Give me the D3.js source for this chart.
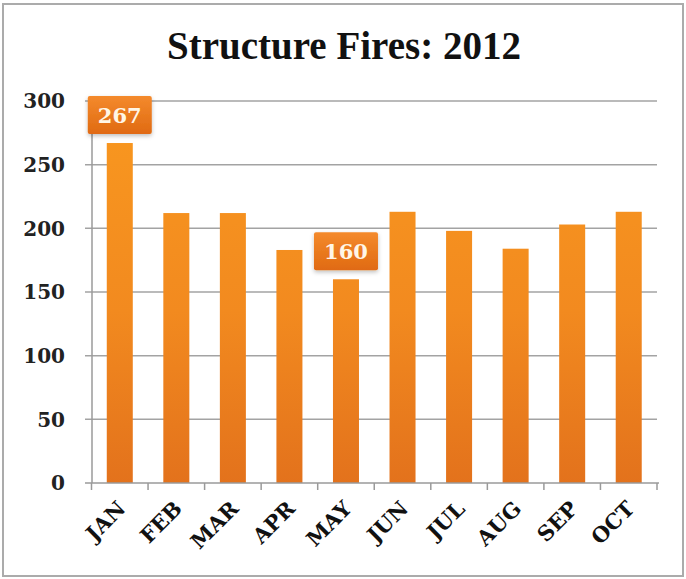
<!DOCTYPE html>
<html>
<head>
<meta charset="utf-8">
<script src="https://cdn.jsdelivr.net/npm/d3@7"></script>
<style>
  body { margin: 0; background: #fff; }
  svg { display: block; }
</style>
</head>
<body>
<svg id="chart"></svg>
<script>
// data
const months = ['JAN', 'FEB', 'MAR', 'APR', 'MAY', 'JUN', 'JUL', 'AUG', 'SEP', 'OCT'];
const fires = [267, 212, 212, 183, 160, 213, 198, 184, 203, 213];
const labelled = ['JAN', 'MAY'];
const yTicks = [0, 50, 100, 150, 200, 250, 300];

const width = 686, height = 579;
const svg = d3.select('#chart').attr('width', width).attr('height', height);

const x = d3.scaleBand()
    .domain(months)
    .range([91.5, 657])
    .paddingInner(0.54)
    .paddingOuter(0.27);

const y = d3.scaleLinear()
    .domain([0, 300])
    .range([483, 101]);

const defs = svg.append('defs');

const barGrad = defs.append('linearGradient')
    .attr('id', 'barGrad')
    .attr('gradientUnits', 'userSpaceOnUse')
    .attr('x1', 0).attr('y1', y(300)).attr('x2', 0).attr('y2', y(0));
barGrad.append('stop').attr('offset', '0%').attr('stop-color', '#f9981f');
barGrad.append('stop').attr('offset', '55%').attr('stop-color', '#f28a1f');
barGrad.append('stop').attr('offset', '100%').attr('stop-color', '#e3721c');

const boxGrad = defs.append('linearGradient')
    .attr('id', 'boxGrad')
    .attr('x1', 0).attr('y1', 0).attr('x2', 0).attr('y2', 1);
boxGrad.append('stop').attr('offset', '0%').attr('stop-color', '#f48a2c');
boxGrad.append('stop').attr('offset', '100%').attr('stop-color', '#e06a12');

const shadow = defs.append('filter').attr('id', 'shadow')
    .attr('x', '-20%').attr('y', '-20%').attr('width', '140%').attr('height', '150%');
shadow.append('feDropShadow')
    .attr('dx', 0).attr('dy', 2).attr('stdDeviation', 2)
    .attr('flood-color', '#000').attr('flood-opacity', 0.25);

// outer frame
svg.append('rect')
    .attr('x', 3).attr('y', 4)
    .attr('width', 680).attr('height', 572)
    .attr('fill', 'none')
    .attr('stroke', '#ababab')
    .attr('stroke-width', 2);

// title
svg.append('text')
    .attr('x', 344)
    .attr('y', 59)
    .attr('text-anchor', 'middle')
    .style('font-family', '"Liberation Serif", serif')
    .style('font-weight', 'bold')
    .style('font-size', '39px')
    .attr('fill', '#111')
    .text('Structure Fires: 2012');

// gridlines
svg.append('g')
    .selectAll('line')
    .data(yTicks.filter(d => d > 0))
    .enter()
    .append('line')
    .attr('x1', 85).attr('x2', 657)
    .attr('y1', d => y(d)).attr('y2', d => y(d))
    .attr('stroke', '#a3a3a3')
    .attr('stroke-width', 1.5);

// y tick labels
svg.append('g')
    .selectAll('text')
    .data(yTicks)
    .enter()
    .append('text')
    .attr('x', 65)
    .attr('y', d => y(d))
    .attr('dy', '0.36em')
    .attr('text-anchor', 'end')
    .style('font-family', '"DejaVu Serif", serif')
    .style('font-weight', 'bold')
    .style('font-size', '20px')
    .attr('fill', '#222')
    .text(d => d);

// y axis line
svg.append('line')
    .attr('x1', 92).attr('x2', 92)
    .attr('y1', y(300)).attr('y2', y(0))
    .attr('stroke', '#9a9a9a')
    .attr('stroke-width', 1.5);

// bars
svg.append('g')
    .selectAll('rect')
    .data(months.map((m, i) => ({ month: m, value: fires[i] })))
    .enter()
    .append('rect')
    .attr('x', d => x(d.month))
    .attr('y', d => y(d.value))
    .attr('width', x.bandwidth())
    .attr('height', d => y(0) - y(d.value))
    .attr('fill', 'url(#barGrad)');

// x axis line and ticks at band edges
svg.append('line')
    .attr('x1', 85).attr('x2', 659)
    .attr('y1', y(0)).attr('y2', y(0))
    .attr('stroke', '#9a9a9a')
    .attr('stroke-width', 1.5);

const edges = months.map(m => x(m) + x.bandwidth() / 2 - x.step() / 2);
edges.push(x(months[months.length - 1]) + x.bandwidth() / 2 + x.step() / 2);
svg.append('g')
    .selectAll('line')
    .data(edges)
    .enter()
    .append('line')
    .attr('x1', d => d).attr('x2', d => d)
    .attr('y1', y(0)).attr('y2', y(0) + 7)
    .attr('stroke', '#9a9a9a')
    .attr('stroke-width', 1.5);

// month labels, rotated
svg.append('g')
    .selectAll('text')
    .data(months)
    .enter()
    .append('text')
    .attr('transform', d => `translate(${x(d) + x.bandwidth() / 2 + 7},${y(0) + 27}) rotate(-45)`)
    .attr('text-anchor', 'end')
    .style('font-family', '"DejaVu Serif", serif')
    .style('font-weight', 'bold')
    .style('font-size', '21px')
    .attr('fill', '#111')
    .text(d => d);

// data labels for JAN and MAY
const callouts = months
    .map((m, i) => ({ month: m, value: fires[i] }))
    .filter(d => labelled.includes(d.month));

const lab = svg.append('g')
    .selectAll('g')
    .data(callouts)
    .enter()
    .append('g')
    .attr('transform', d => `translate(${x(d.month) + x.bandwidth() / 2},${y(d.value) - 28})`);

lab.append('rect')
    .attr('x', -32).attr('y', -19)
    .attr('width', 64).attr('height', 38)
    .attr('rx', 2)
    .attr('fill', 'url(#boxGrad)')
    .attr('filter', 'url(#shadow)');

lab.append('text')
    .attr('text-anchor', 'middle')
    .attr('dy', '0.36em')
    .style('font-family', '"DejaVu Serif", serif')
    .style('font-weight', 'bold')
    .style('font-size', '21px')
    .attr('fill', '#fff6e6')
    .text(d => d.value);
</script>
</body>
</html>
